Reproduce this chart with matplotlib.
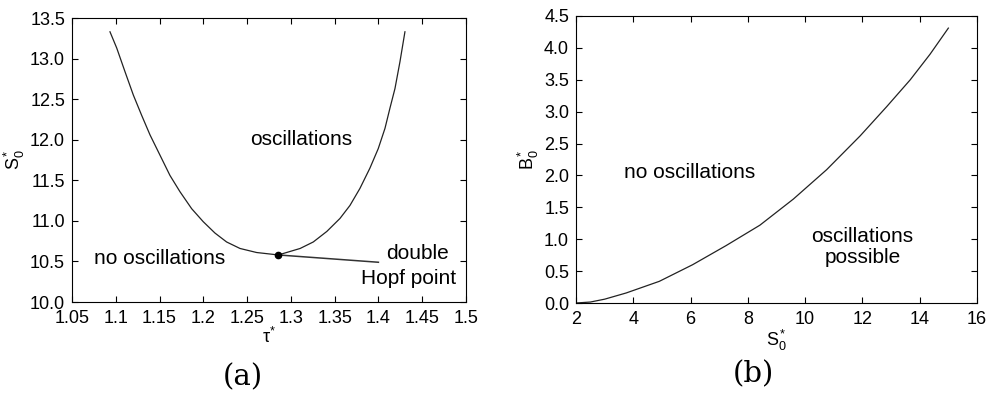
import numpy as np
import matplotlib
matplotlib.use('Agg')
import matplotlib.pyplot as plt

plt.rcParams['font.family'] = ['Liberation Sans', 'DejaVu Sans']
plt.rcParams['mathtext.fontset'] = 'custom'
plt.rcParams['mathtext.rm'] = 'Liberation Sans'
plt.rcParams['mathtext.it'] = 'Liberation Sans'

# ----------- (a) Hopf curve in the (tau*, S0*) plane -----------

tau = [1.0934, 1.1011, 1.1105, 1.1201, 1.1296, 1.1391, 1.1505, 1.1619, 1.1733,
       1.1867, 1.1999, 1.2133, 1.2266, 1.2419, 1.2609, 1.2857, 1.3106, 1.3256,
       1.3411, 1.3561, 1.3675, 1.3789, 1.3903, 1.3998, 1.4075, 1.4132, 1.4189,
       1.4246, 1.4303]
s0_hopf = [13.33, 13.13, 12.84, 12.55, 12.30, 12.06, 11.81, 11.56, 11.36,
           11.15, 10.99, 10.85, 10.74, 10.66, 10.61, 10.58, 10.66, 10.74,
           10.87, 11.03, 11.19, 11.40, 11.65, 11.89, 12.14, 12.39, 12.63,
           12.96, 13.33]

ponto_hopf = (1.2857, 10.58)
fim_seta = (1.40, 10.49)

ticks_tau = [1.05, 1.1, 1.15, 1.2, 1.25, 1.3, 1.35, 1.4, 1.45, 1.5]
rotulos_tau = ['1.05', '1.1', '1.15', '1.2', '1.25', '1.3', '1.35', '1.4', '1.45', '1.5']
ticks_s0a = [10.0, 10.5, 11.0, 11.5, 12.0, 12.5, 13.0, 13.5]
rotulos_s0a = ['10.0', '10.5', '11.0', '11.5', '12.0', '12.5', '13.0', '13.5']

# ----------- (b) boundary in the (S0*, B0*) plane -----------

s0 = [2.0, 2.5, 3.0, 3.75, 4.91, 6.07, 7.24, 8.42, 9.59, 10.75, 11.92, 12.85,
      13.67, 14.36, 15.0]
b0 = [0.0, 0.015, 0.06, 0.157, 0.34, 0.60, 0.90, 1.22, 1.63, 2.09, 2.62, 3.08,
      3.50, 3.90, 4.31]

ticks_s0b = [2, 4, 6, 8, 10, 12, 14, 16]
ticks_b0 = [0.0, 0.5, 1.0, 1.5, 2.0, 2.5, 3.0, 3.5, 4.0, 4.5]
rotulos_b0 = ['0.0', '0.5', '1.0', '1.5', '2.0', '2.5', '3.0', '3.5', '4.0', '4.5']

fs_tick = 13
fs_txt = 15

fig = plt.figure(figsize=(10.04, 3.95), dpi=100)
ax1 = fig.add_axes([0.0717, 0.2354, 0.3924, 0.7190])
ax2 = fig.add_axes([0.5737, 0.2329, 0.3994, 0.7266])

for ax in (ax1, ax2):
    ax.tick_params(direction='in', top=True, right=True, length=4, width=0.8,
                   labelsize=fs_tick)
    ax.tick_params(axis='x', pad=6)
    ax.tick_params(axis='y', pad=5)
    for sp in ax.spines.values():
        sp.set_linewidth(0.8)

# painel (a)
ax1.plot(tau, s0_hopf, color='#222222', lw=0.9)
ax1.plot([ponto_hopf[0], fim_seta[0]], [ponto_hopf[1], fim_seta[1]], color='#333333', lw=1.1)
ax1.plot(*ponto_hopf, 'o', color='black', markersize=4.5)
ax1.text(1.3115, 12.0, 'oscillations', fontsize=fs_txt, ha='center', va='center')
ax1.text(1.15, 10.54, 'no oscillations', fontsize=fs_txt, ha='center', va='center')
ax1.text(1.4446, 10.60, 'double', fontsize=fs_txt, ha='center', va='center')
ax1.text(1.4349, 10.29, 'Hopf point', fontsize=fs_txt, ha='center', va='center')
ax1.set_xlim(1.05, 1.5)
ax1.set_ylim(10.0, 13.5)
ax1.set_xticks(ticks_tau)
ax1.set_xticklabels(rotulos_tau)
ax1.set_yticks(ticks_s0a)
ax1.set_yticklabels(rotulos_s0a)
ax1.set_xlabel(r'$\tau^{*}$', fontsize=fs_tick, labelpad=0)
ax1.set_ylabel(r'$S_0^{*}$', fontsize=fs_tick, labelpad=2)

# painel (b)
ax2.plot(s0, b0, color='#222222', lw=0.9)
ax2.text(5.98, 2.05, 'no oscillations', fontsize=fs_txt, ha='center', va='center')
ax2.text(12.0, 1.04, 'oscillations', fontsize=fs_txt, ha='center', va='center')
ax2.text(12.0, 0.72, 'possible', fontsize=fs_txt, ha='center', va='center')
ax2.set_xlim(2, 16)
ax2.set_ylim(0, 4.5)
ax2.set_xticks(ticks_s0b)
ax2.set_yticks(ticks_b0)
ax2.set_yticklabels(rotulos_b0)
ax2.set_xlabel(r'$S_0^{*}$', fontsize=fs_tick, labelpad=0)
ax2.set_ylabel(r'$B_0^{*}$', fontsize=fs_tick, labelpad=2)

fig.text(0.242, 0.046, '(a)', fontsize=21, family='DejaVu Serif', ha='center', va='center')
fig.text(0.750, 0.052, '(b)', fontsize=21, family='DejaVu Serif', ha='center', va='center')

fig.savefig('out.png', dpi=100)
